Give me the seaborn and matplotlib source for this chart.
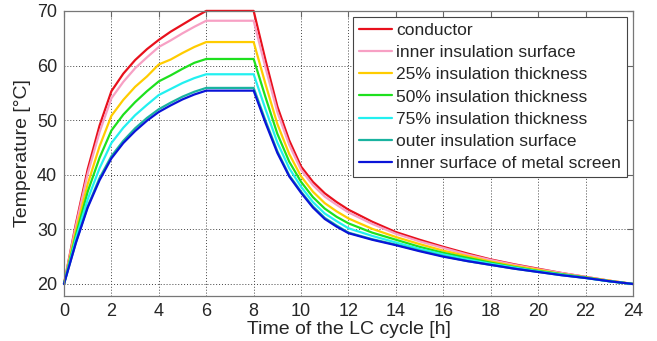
import seaborn as sns
import matplotlib.pyplot as plt
import pandas as pd

hours = [0, 0.5, 1, 1.5, 2, 2.5, 3, 3.5, 4, 4.5, 5, 5.5, 6,
         8, 8.5, 9, 9.5, 10, 10.5, 11, 11.5, 12,
         13, 14, 15, 16, 17, 18, 19, 20, 21, 22, 23, 24]

conductor = [20, 31.0, 41.0, 49.0, 55.3, 58.5, 61.0, 63.0, 64.7, 66.2, 67.5, 68.8, 70.0,
             70.0, 61.0, 52.5, 46.3, 41.5, 38.7, 36.6, 35.0, 33.6,
             31.4, 29.5, 28.1, 26.8, 25.6, 24.5, 23.6, 22.8, 22.0, 21.3, 20.6, 20]
inner_ins = [20, 30.6, 40.2, 47.8, 54.0, 57.0, 59.5, 61.5, 63.4, 64.6, 65.9, 67.1, 68.2,
             68.2, 59.6, 51.5, 45.5, 40.9, 38.1, 36.0, 34.5, 33.1,
             31.0, 29.2, 27.8, 26.6, 25.4, 24.4, 23.5, 22.7, 22.0, 21.3, 20.6, 20]
ins_25 = [20, 29.7, 38.3, 45.2, 50.8, 53.7, 56.1, 58.0, 60.2, 61.1, 62.3, 63.4, 64.3,
          64.3, 56.6, 49.3, 43.8, 39.7, 36.9, 34.8, 33.3, 32.0,
          30.1, 28.6, 27.3, 26.1, 25.1, 24.1, 23.3, 22.6, 21.8, 21.2, 20.6, 20]
ins_50 = [20, 28.9, 36.9, 43.1, 48.1, 51.0, 53.3, 55.3, 57.1, 58.2, 59.4, 60.5, 61.2,
          61.2, 54.2, 47.5, 42.4, 38.7, 35.9, 33.8, 32.3, 31.1,
          29.4, 28.1, 26.8, 25.7, 24.8, 23.9, 23.1, 22.4, 21.8, 21.2, 20.5, 20]
ins_75 = [20, 28.3, 35.5, 41.2, 45.8, 48.6, 50.9, 52.8, 54.6, 55.7, 56.8, 57.7, 58.4,
          58.4, 52.0, 45.9, 41.2, 37.8, 35.0, 32.9, 31.5, 30.2,
          28.8, 27.6, 26.4, 25.4, 24.5, 23.7, 23.0, 22.3, 21.7, 21.1, 20.5, 20]
outer_ins = [20, 27.6, 34.2, 39.4, 43.4, 46.2, 48.5, 50.4, 52.0, 53.2, 54.3, 55.2, 55.9,
             55.9, 49.9, 44.3, 39.9, 36.9, 34.2, 32.1, 30.7, 29.4,
             28.2, 27.2, 26.1, 25.1, 24.2, 23.5, 22.8, 22.2, 21.6, 21.1, 20.5, 20]
metal_screen = [20, 27.5, 34.0, 39.0, 43.0, 45.8, 48.0, 49.9, 51.5, 52.7, 53.8, 54.7, 55.4,
                55.4, 49.5, 44.0, 39.7, 36.7, 34.0, 31.9, 30.5, 29.3,
                28.1, 27.1, 26.0, 25.0, 24.2, 23.5, 22.8, 22.2, 21.6, 21.1, 20.5, 20]

labels = ['conductor', 'inner insulation surface', '25% insulation thickness',
          '50% insulation thickness', '75% insulation thickness',
          'outer insulation surface', 'inner surface of metal screen']
colors = ['#e8101c', '#f7a0c4', '#ffcc00', '#1ee01e', '#22f0f0', '#1ab3a0', '#0a14d8']

series = [conductor, inner_ins, ins_25, ins_50, ins_75, outer_ins, metal_screen]
rows = []
for lab, vals in zip(labels, series):
    for h, v in zip(hours, vals):
        rows.append({'time': h, 'temp': v, 'series': lab})
df = pd.DataFrame(rows)

sns.set_style('white')
plt.rcParams['font.family'] = ['Liberation Sans', 'DejaVu Sans']

fig = plt.figure(figsize=(6.57, 3.41), dpi=100)
ax = fig.add_axes([0.0974, 0.132, 0.866, 0.836])

sns.lineplot(data=df, x='time', y='temp', hue='series', hue_order=labels,
             palette=colors, linewidth=1.6, sort=False, ax=ax)
for ln in ax.get_lines():
    ln.set_clip_on(False)

ax.set_xlim(0, 24)
ax.set_ylim(17.8, 70)
ax.set_xticks(range(0, 25, 2))
ax.set_yticks(range(20, 71, 10))
ax.grid(True, color='#444444', linestyle=(0, (1, 2)), linewidth=0.7)
ax.tick_params(direction='in', length=4, top=True, right=True, labelsize=13,
               color='#666666', pad=5)
for s in ax.spines.values():
    s.set_color('#777777')
    s.set_linewidth(0.9)

ax.set_xlabel('Time of the LC cycle [h]', fontsize=14, labelpad=1)
ax.set_ylabel('Temperature [°C]', fontsize=14, labelpad=4)

leg = ax.legend(loc='upper right', fontsize=12.5, frameon=True, fancybox=False,
                framealpha=1, edgecolor='#444444', handlelength=1.9,
                handletextpad=0.25, labelspacing=0.4, borderpad=0.35,
                borderaxespad=0.35)
leg.get_frame().set_linewidth(0.8)

fig.savefig('out.png', dpi=100)
